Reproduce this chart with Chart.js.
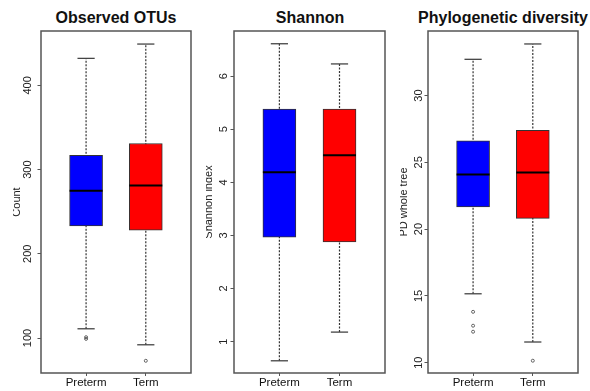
<!DOCTYPE html>
<html>
<head>
<meta charset="utf-8">
<script src="https://cdn.jsdelivr.net/npm/chart.js@4.4.0/dist/chart.umd.min.js"></script>
<style>
  body { margin: 0; background: #fff; width: 590px; height: 391px; position: relative; overflow: hidden;
         font-family: "Liberation Sans", Arial, sans-serif; }
  .panel { position: absolute; top: 0; height: 391px; overflow: hidden; }
  .panel canvas { position: absolute; top: 0; }
  .title { position: absolute; top: 8px; width: 220px; text-align: center; font-weight: bold;
           font-size: 16px; line-height: 20px; color: #111; }
</style>
</head>
<body>
<div class="title" style="left:6px">Observed OTUs</div>
<div class="title" style="left:200px">Shannon</div>
<div class="title" style="left:393px">Phylogenetic diversity</div>

<div class="panel" style="left:13px;width:190px"><canvas id="otu" width="185" height="391" style="left:-3px"></canvas></div>
<div class="panel" style="left:206px;width:190px"><canvas id="shannon" width="187" height="391" style="left:-4px"></canvas></div>
<div class="panel" style="left:400px;width:190px"><canvas id="pd" width="185" height="391" style="left:-3px"></canvas></div>

<script>
const groups = ['Preterm', 'Term'];

// [lower whisker, Q1, median, Q3, upper whisker]
const otuPreterm = [111, 233, 275, 317, 432];
const otuTerm = [92, 228, 281, 331, 449];
const otuOutPreterm = [99, 101];
const otuOutTerm = [73];
const otuTicks = [100, 200, 300, 400];

const shannonPreterm = [0.64, 2.97, 4.19, 5.38, 6.61];
const shannonTerm = [1.18, 2.88, 4.51, 5.38, 6.23];
const shannonOutPreterm = [];
const shannonOutTerm = [];
const shannonTicks = [1, 2, 3, 4, 5, 6];

const pdPreterm = [15.16, 21.67, 24.09, 26.6, 32.71];
const pdTerm = [11.55, 20.8, 24.24, 27.4, 33.86];
const pdOutPreterm = [13.81, 12.77, 12.32];
const pdOutTerm = [10.15];
const pdTicks = [10, 15, 20, 25, 30];

const family = '"Liberation Sans", Arial, sans-serif';

// R-style box round the plot region
const frame = {
  id: 'frame',
  afterDraw(chart) {
    const { ctx, chartArea: a } = chart;
    ctx.save();
    ctx.strokeStyle = '#555';
    ctx.lineWidth = 1.5;
    ctx.strokeRect(a.left, a.top, a.right - a.left, a.bottom - a.top);
    ctx.restore();
  }
};

function boxPanel(id, stats, outs, ticks, yTitle, yMin, yMax, tickPad, yWidth) {
  const whiskers = stats.map((s, i) => ({
    type: 'line',
    data: [{ x: i + 1, y: s[0] }, { x: i + 1, y: s[4] }],
    borderColor: '#333',
    borderWidth: 1.2,
    borderDash: [2, 1.5],
    pointRadius: 0,
    order: 5
  }));

  const datasets = whiskers.concat([
    {
      type: 'bar',
      data: stats.map((s, i) => ({ x: i + 1, y: [s[1], s[3]] })),
      backgroundColor: ['#0000ff', '#ff0000'],
      borderColor: '#333',
      borderWidth: 1,
      borderSkipped: false,
      barThickness: 33,
      order: 4
    },
    {
      type: 'scatter',
      data: stats.flatMap((s, i) => [{ x: i + 1, y: s[0] }, { x: i + 1, y: s[4] }]),
      pointStyle: 'line',
      pointRadius: 8.6,
      borderColor: '#444',
      borderWidth: 1.3,
      order: 2
    },
    {
      type: 'scatter',
      data: outs.flatMap((o, i) => o.map(v => ({ x: i + 1, y: v }))),
      pointStyle: 'circle',
      pointRadius: 1.5,
      borderColor: '#555',
      borderWidth: 0.9,
      backgroundColor: 'rgba(0,0,0,0)',
      order: 2
    },
    {
      type: 'scatter',
      data: stats.map((s, i) => ({ x: i + 1, y: s[2] })),
      pointStyle: 'line',
      pointRadius: 16.5,
      borderColor: '#000',
      borderWidth: 2,
      order: 1
    }
  ]);

  return new Chart(document.getElementById(id), {
    type: 'bar',
    data: { datasets },
    options: {
      responsive: false,
      animation: false,
      layout: { autoPadding: false, padding: { top: 31, right: 4, bottom: 0, left: 0 } },
      plugins: { legend: { display: false }, tooltip: { enabled: false } },
      scales: {
        x: {
          type: 'linear',
          min: 0.245,
          max: 2.757,
          offset: false,
          afterBuildTicks: s => { s.ticks = groups.map((g, i) => ({ value: i + 1 })); },
          afterFit: s => { s.height = 18; s.paddingLeft = 0; s.paddingRight = 0; },
          ticks: {
            callback: (v, i) => groups[i],
            font: { size: 11.5, family },
            color: '#111',
            padding: 0,
            maxRotation: 0,
            autoSkip: false
          },
          grid: { display: true, offset: false, drawOnChartArea: false, tickLength: 3, color: '#555' },
          border: { display: false }
        },
        y: {
          type: 'linear',
          min: yMin,
          max: yMax,
          afterBuildTicks: s => { s.ticks = ticks.map(v => ({ value: v })); },
          afterFit: s => { s.width = yWidth; s.paddingTop = 0; s.paddingBottom = 0; },
          ticks: {
            minRotation: 90,
            maxRotation: 90,
            crossAlign: 'center',
            padding: tickPad,
            font: { size: 11, family },
            color: '#222'
          },
          grid: { display: true, drawOnChartArea: false, tickLength: 3.5, color: '#555' },
          border: { display: false },
          title: { display: true, text: yTitle, font: { size: 11, family }, color: '#222', padding: 0 }
        }
      }
    },
    plugins: [frame]
  });
}

boxPanel('otu', [otuPreterm, otuTerm], [otuOutPreterm, otuOutTerm], otuTicks, 'Count', 58.5, 464.5, 0, 31);
boxPanel('shannon', [shannonPreterm, shannonTerm], [shannonOutPreterm, shannonOutTerm], shannonTicks, 'Shannon index', 0.41, 6.85, 3.8, 32);
boxPanel('pd', [pdPreterm, pdTerm], [pdOutPreterm, pdOutTerm], pdTicks, 'PD whole tree', 9.23, 34.83, -0.8, 31);
</script>
</body>
</html>
